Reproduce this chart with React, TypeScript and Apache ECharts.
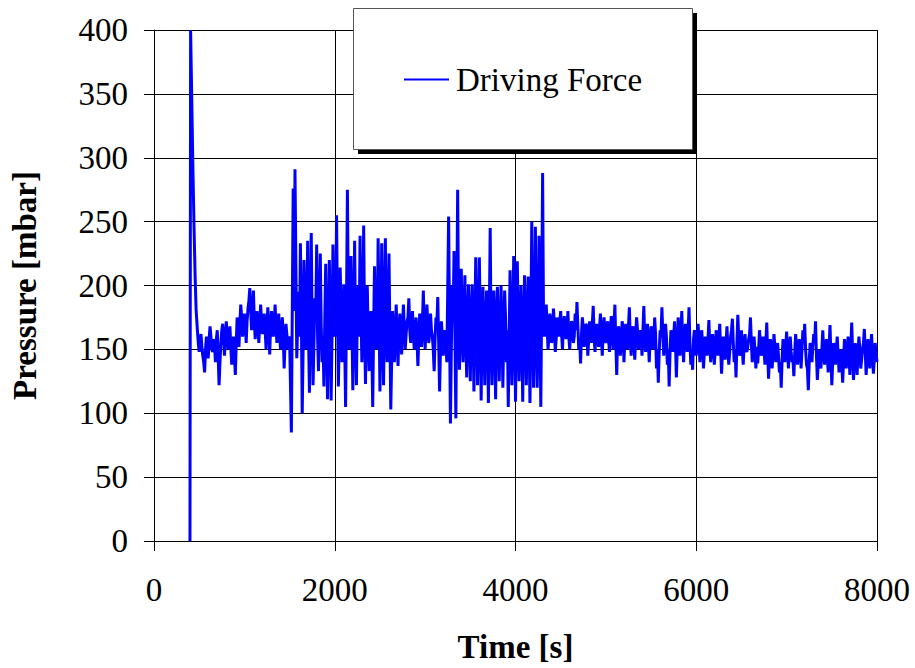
import React, { useEffect, useRef } from "react";
import * as echarts from "echarts";

// ---------------- Data (time [s], pressure [mbar]) ----------------
const X_TICKS = [0, 2000, 4000, 6000, 8000];
const Y_TICKS = [0, 50, 100, 150, 200, 250, 300, 350, 400];
const SERIES_NAME = "Driving Force";

const startup: [number, number][] = [
  [398, 0], [405, 400], [418, 345], [430, 294], [443, 246], [455, 207], [466, 181],
];

const segA: [number, number][] = [
  [480, 165], [500, 148], [520, 162], [540, 145], [560, 132], [580, 160], [600, 143], [620, 168],
  [640, 150], [660, 158], [680, 140], [700, 165], [720, 122], [740, 155], [760, 170], [780, 145],
  [800, 172], [820, 150], [840, 168], [860, 138], [880, 160], [900, 130], [920, 175], [940, 152],
  [960, 185], [980, 160], [1000, 178], [1020, 155], [1040, 182], [1060, 198], [1080, 165], [1100, 196],
  [1120, 158], [1140, 180], [1160, 155], [1180, 185], [1200, 162], [1220, 178], [1240, 150], [1260, 183],
  [1280, 146], [1300, 180], [1320, 160], [1340, 185], [1360, 155], [1380, 178], [1400, 150], [1420, 175],
  [1440, 135], [1460, 170], [1480, 150], [1500, 160],
];
const segA2: [number, number][] = [
  [490, 155], [510, 156], [530, 152], [550, 140], [570, 150], [590, 152], [610, 158], [630, 160],
  [650, 148], [670, 152], [690, 158], [710, 145], [730, 140], [750, 165], [770, 158], [790, 160],
  [810, 162], [830, 158], [850, 152], [870, 150], [890, 145], [910, 155], [930, 165], [950, 170],
  [970, 175], [990, 168], [1010, 170], [1030, 172], [1050, 188], [1070, 180], [1090, 178], [1110, 172],
  [1130, 170], [1150, 168], [1170, 170], [1190, 172], [1210, 170], [1230, 165], [1250, 170], [1270, 165],
  [1290, 168], [1310, 172], [1330, 170], [1350, 168], [1370, 165], [1390, 162], [1410, 165], [1430, 160],
  [1450, 155], [1470, 162], [1490, 158],
];

const segB: [number, number][] = [
  [1520, 85], [1540, 276], [1560, 291], [1580, 143], [1600, 195], [1620, 233], [1640, 100], [1660, 220],
  [1680, 150], [1700, 235], [1720, 116], [1740, 241], [1760, 122], [1780, 190], [1800, 232], [1820, 133],
  [1840, 225], [1860, 140], [1880, 121], [1900, 217], [1920, 111], [1940, 220], [1960, 110], [1980, 232],
  [2000, 160], [2020, 255], [2040, 121], [2060, 214], [2080, 140], [2100, 201], [2120, 105], [2140, 275],
  [2160, 150], [2180, 223], [2200, 118], [2220, 235], [2240, 122], [2260, 200], [2280, 239], [2300, 140],
  [2320, 247], [2340, 123], [2360, 200], [2380, 133], [2400, 180], [2420, 105], [2440, 215], [2460, 150],
  [2480, 237], [2500, 117], [2520, 233], [2540, 122], [2560, 237], [2580, 140], [2600, 225], [2620, 103],
];
const segB2: [number, number][] = [
  [1550, 180], [1590, 170], [1610, 160], [1630, 180], [1650, 150], [1670, 185], [1690, 165], [1710, 160],
  [1730, 190], [1750, 165], [1770, 155], [1790, 175], [1810, 160], [1830, 185], [1850, 170], [1870, 160],
  [1890, 175], [1910, 160], [1930, 165], [1950, 180], [1970, 160], [1990, 185], [2010, 170], [2030, 180],
  [2050, 160], [2070, 180], [2090, 165], [2110, 155], [2130, 185], [2150, 190], [2170, 165], [2190, 170],
  [2210, 175], [2230, 165], [2250, 180], [2270, 160], [2290, 185], [2310, 170], [2330, 165], [2350, 175],
  [2370, 160], [2390, 170], [2410, 150], [2430, 165], [2450, 175], [2470, 160], [2490, 180], [2510, 165],
  [2530, 170], [2550, 175], [2570, 160], [2590, 180], [2610, 165],
];

const segC: [number, number][] = [
  [2640, 180], [2660, 140], [2680, 185], [2700, 137], [2720, 178], [2740, 146], [2760, 185], [2780, 150],
  [2800, 172], [2820, 190], [2840, 155], [2860, 180], [2880, 150], [2900, 175], [2920, 137], [2940, 178],
  [2960, 152], [2980, 196], [3000, 150], [3020, 185], [3040, 155], [3060, 178], [3080, 160], [3100, 133],
  [3120, 175], [3140, 191], [3160, 117], [3180, 172], [3200, 145], [3220, 165], [3240, 140],
];
const segC2: [number, number][] = [
  [2650, 160], [2670, 165], [2690, 158], [2710, 162], [2730, 160], [2750, 168], [2770, 165], [2790, 162],
  [2810, 175], [2830, 165], [2850, 168], [2870, 162], [2890, 165], [2910, 158], [2930, 160], [2950, 165],
  [2970, 170], [2990, 168], [3010, 165], [3030, 170], [3050, 162], [3070, 165], [3090, 150], [3110, 158],
  [3130, 170], [3150, 155], [3170, 150], [3190, 160], [3210, 158], [3230, 155],
];

const segD: [number, number][] = [
  [3260, 254], [3280, 92], [3300, 200], [3320, 227], [3340, 96], [3360, 275], [3380, 134], [3400, 213],
  [3420, 140], [3440, 208], [3460, 128], [3480, 201], [3500, 125], [3520, 201], [3540, 117], [3560, 222],
  [3580, 122], [3600, 222], [3620, 110], [3640, 199], [3660, 122], [3680, 196], [3700, 108], [3720, 245],
  [3740, 122], [3760, 196], [3780, 111], [3800, 199], [3820, 125], [3840, 200], [3860, 120], [3880, 196],
  [3900, 140], [3920, 105], [3940, 212], [3960, 122], [3980, 223], [4000, 109], [4020, 219], [4040, 125],
  [4060, 200], [4080, 109], [4100, 208], [4120, 122], [4140, 207], [4160, 108], [4180, 250], [4200, 120],
  [4220, 246], [4240, 120], [4260, 239], [4280, 105], [4300, 288], [4320, 160],
];
const segD2: [number, number][] = [
  [3270, 170], [3290, 150], [3310, 175], [3330, 160], [3350, 185], [3370, 180], [3390, 165], [3410, 170],
  [3430, 175], [3450, 160], [3470, 170], [3490, 160], [3510, 175], [3530, 165], [3550, 170], [3570, 175],
  [3590, 160], [3610, 170], [3630, 165], [3650, 160], [3670, 170], [3690, 165], [3710, 175], [3730, 160],
  [3750, 170], [3770, 155], [3790, 175], [3810, 160], [3830, 165], [3850, 170], [3870, 160], [3890, 175],
  [3910, 165], [3930, 160], [3950, 170], [3970, 165], [3990, 175], [4010, 160], [4030, 170], [4050, 165],
  [4070, 160], [4090, 170], [4110, 165], [4130, 175], [4150, 160], [4170, 170], [4190, 175], [4210, 165],
  [4230, 170], [4250, 160], [4270, 175], [4290, 190], [4310, 175],
];

const segE: [number, number][] = [
  [4340, 185], [4360, 150], [4380, 178], [4400, 155], [4420, 182], [4440, 148], [4460, 175], [4480, 160],
  [4500, 180], [4520, 150], [4540, 176], [4560, 158], [4580, 180], [4600, 150], [4620, 172], [4640, 155],
  [4660, 178], [4680, 187], [4700, 150], [4720, 139], [4740, 175], [4760, 152], [4780, 170], [4800, 145],
  [4820, 172], [4840, 155], [4860, 184], [4880, 148], [4900, 170], [4920, 152], [4940, 178], [4960, 145],
  [4980, 175], [5000, 155], [5020, 172], [5040, 148], [5060, 176], [5080, 150], [5100, 185], [5120, 130],
  [5140, 168], [5160, 145], [5180, 172], [5200, 140], [5220, 170], [5240, 150], [5260, 183], [5280, 145],
  [5300, 168], [5320, 142], [5340, 175], [5360, 150], [5380, 165], [5400, 145], [5420, 184], [5440, 148],
  [5460, 170], [5480, 140], [5500, 168], [5520, 150], [5540, 175], [5560, 135], [5580, 124], [5600, 165],
  [5620, 183], [5640, 145], [5660, 170], [5680, 138], [5700, 121], [5720, 165], [5740, 148], [5760, 172],
  [5780, 128], [5800, 175], [5820, 145], [5840, 180], [5860, 140], [5880, 170], [5900, 148], [5920, 183],
  [5940, 138], [5960, 134], [5980, 165], [6000, 145],
];
const segE2: [number, number][] = [
  [4350, 168], [4370, 160], [4390, 172], [4410, 162], [4430, 170], [4450, 158], [4470, 167], [4490, 172],
  [4510, 162], [4530, 170], [4550, 163], [4570, 168], [4590, 160], [4610, 165], [4630, 170], [4650, 160],
  [4670, 165], [4690, 168], [4710, 158], [4730, 162], [4750, 166], [4770, 160], [4790, 168], [4810, 158],
  [4830, 165], [4850, 170], [4870, 160], [4890, 164], [4910, 158], [4930, 168], [4950, 160], [4970, 165],
  [4990, 162], [5010, 168], [5030, 158], [5050, 166], [5070, 162], [5090, 170], [5110, 155], [5130, 160],
  [5150, 165], [5170, 155], [5190, 166], [5210, 158], [5230, 162], [5250, 168], [5270, 158], [5290, 164],
  [5310, 155], [5330, 162], [5350, 165], [5370, 155], [5390, 160], [5410, 165], [5430, 158], [5450, 162],
  [5470, 155], [5490, 160], [5510, 165], [5530, 158], [5550, 162], [5570, 150], [5590, 148], [5610, 160],
  [5630, 162], [5650, 155], [5670, 160], [5690, 150], [5710, 148], [5730, 158], [5750, 160], [5770, 155],
  [5790, 152], [5810, 160], [5830, 162], [5850, 155], [5870, 160], [5890, 158], [5910, 164], [5930, 155],
  [5950, 150], [5970, 158], [5990, 155],
];

const segF: [number, number][] = [
  [6020, 170], [6040, 140], [6060, 165], [6080, 135], [6100, 160], [6120, 145], [6140, 173], [6160, 140],
  [6180, 162], [6200, 138], [6220, 165], [6240, 145], [6260, 170], [6280, 131], [6300, 160], [6320, 142],
  [6340, 168], [6360, 138], [6380, 160], [6400, 174], [6420, 140], [6440, 128], [6460, 177], [6480, 145],
  [6500, 165], [6520, 138], [6540, 162], [6560, 148], [6580, 158], [6600, 175], [6620, 140], [6640, 160],
  [6660, 135], [6680, 139], [6700, 165], [6720, 145], [6740, 160], [6760, 138], [6780, 171], [6800, 127],
  [6820, 158], [6840, 135], [6860, 162], [6880, 140], [6900, 155], [6920, 132], [6940, 120], [6960, 158],
  [6980, 140], [7000, 164], [7020, 135], [7040, 160], [7060, 140], [7080, 129], [7100, 162], [7120, 138],
  [7140, 158], [7160, 135], [7180, 165], [7200, 170], [7220, 138], [7240, 118], [7260, 155], [7280, 140],
  [7300, 162], [7320, 172], [7340, 126], [7360, 150], [7380, 135], [7400, 165], [7420, 138], [7440, 158],
  [7460, 132], [7480, 169], [7500, 122], [7520, 155], [7540, 138], [7560, 160], [7580, 132], [7600, 150],
  [7620, 124], [7640, 158], [7660, 135], [7680, 160], [7700, 130], [7720, 171], [7740, 126], [7760, 155],
  [7780, 130], [7800, 160], [7820, 135], [7840, 150], [7860, 166], [7880, 130], [7900, 158], [7920, 135],
  [7940, 162], [7960, 131], [7980, 155], [8000, 140],
];
const segF2: [number, number][] = [
  [6010, 155], [6030, 160], [6050, 150], [6070, 155], [6090, 148], [6110, 155], [6130, 158], [6150, 152],
  [6170, 150], [6190, 155], [6210, 150], [6230, 156], [6250, 158], [6270, 150], [6290, 148], [6310, 152],
  [6330, 155], [6350, 150], [6370, 148], [6390, 165], [6410, 155], [6430, 150], [6450, 155], [6470, 160],
  [6490, 152], [6510, 150], [6530, 155], [6550, 150], [6570, 152], [6590, 162], [6610, 155], [6630, 150],
  [6650, 148], [6670, 152], [6690, 150], [6710, 155], [6730, 152], [6750, 150], [6770, 155], [6790, 148],
  [6810, 145], [6830, 150], [6850, 148], [6870, 152], [6890, 148], [6910, 145], [6930, 140], [6950, 142],
  [6970, 150], [6990, 152], [7010, 148], [7030, 150], [7050, 148], [7070, 142], [7090, 148], [7110, 150],
  [7130, 146], [7150, 148], [7170, 150], [7190, 155], [7210, 150], [7230, 135], [7250, 140], [7270, 148],
  [7290, 152], [7310, 155], [7330, 145], [7350, 140], [7370, 145], [7390, 150], [7410, 148], [7430, 150],
  [7450, 145], [7470, 152], [7490, 145], [7510, 140], [7530, 148], [7550, 150], [7570, 146], [7590, 142],
  [7610, 140], [7630, 142], [7650, 148], [7670, 150], [7690, 145], [7710, 150], [7730, 148], [7750, 142],
  [7770, 145], [7790, 148], [7810, 150], [7830, 142], [7850, 155], [7870, 148], [7890, 145], [7910, 148],
  [7930, 150], [7950, 145], [7970, 142], [7990, 148],
];

const FONT = "'Liberation Serif', 'Times New Roman', serif";

export default function App() {
  const ref = useRef<HTMLDivElement>(null);

  useEffect(() => {
    if (!ref.current) return;
    const chart = echarts.init(ref.current, undefined, { renderer: "svg" });
    const data = [
      ...startup, ...segA, ...segA2, ...segB, ...segB2, ...segC, ...segC2,
      ...segD, ...segD2, ...segE, ...segE2, ...segF, ...segF2,
    ].sort((a, b) => a[0] - b[0]);

    chart.setOption({
      animation: false,
      backgroundColor: "#ffffff",
      grid: { left: 152, right: 38, top: 30, bottom: 127, containLabel: false },
      xAxis: {
        type: "value",
        min: X_TICKS[0],
        max: X_TICKS[X_TICKS.length - 1],
        interval: 2000,
        name: "Time [s]",
        nameLocation: "middle",
        nameGap: 89,
        nameTextStyle: { fontFamily: FONT, fontSize: 33, fontWeight: "bold", color: "#000" },
        axisLine: { show: true, onZero: false, lineStyle: { color: "#000", width: 1 } },
        axisTick: { show: true, inside: false, length: 10, lineStyle: { color: "#000", width: 1 } },
        axisLabel: {
          fontFamily: FONT, fontSize: 33, color: "#000", margin: 32,
          formatter: (v: number) => String(v),
        },
        splitLine: { show: true, lineStyle: { color: "#000", width: 1 } },
      },
      yAxis: {
        type: "value",
        min: Y_TICKS[0],
        max: Y_TICKS[Y_TICKS.length - 1],
        interval: 50,
        name: "Pressure [mbar]",
        nameLocation: "middle",
        nameRotate: 90,
        nameGap: 113,
        nameTextStyle: { fontFamily: FONT, fontSize: 33, fontWeight: "bold", color: "#000" },
        axisLine: { show: true, lineStyle: { color: "#000", width: 1 } },
        axisTick: { show: true, inside: false, length: 10, lineStyle: { color: "#000", width: 1 } },
        axisLabel: {
          fontFamily: FONT, fontSize: 33, color: "#000", margin: 26,
          formatter: (v: number) => String(v),
        },
        splitLine: { show: true, lineStyle: { color: "#000", width: 1 } },
      },
      legend: {
        show: true,
        data: [SERIES_NAME],
        left: 404,
        top: 63,
        padding: 0,
        z: 30,
        icon: "rect",
        itemWidth: 45,
        itemHeight: 2,
        itemGap: 0,
        textStyle: { fontFamily: FONT, fontSize: 33, color: "#000", padding: [0, 0, 0, 2] },
      },
      graphic: [
        {
          type: "rect",
          z: 20,
          shape: { x: 358, y: 13, width: 339, height: 141 },
          style: { fill: "#000" },
        },
        {
          type: "rect",
          z: 21,
          shape: { x: 353.5, y: 8.5, width: 339, height: 141 },
          style: { fill: "#fff", stroke: "#555", lineWidth: 1 },
        },
      ],
      series: [
        {
          name: SERIES_NAME,
          type: "line",
          data,
          showSymbol: false,
          symbol: "none",
          color: "#0000ff",
          lineStyle: { color: "#0000ff", width: 3, join: "bevel" },
          z: 5,
        },
      ],
    });

    return () => chart.dispose();
  }, []);

  return (
    <div
      ref={ref}
      style={{ position: "absolute", left: 0, top: 0, width: 915, height: 668 }}
    />
  );
}
